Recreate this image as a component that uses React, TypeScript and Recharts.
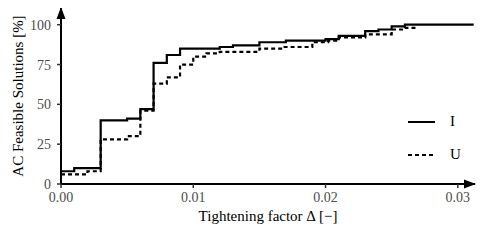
import { Legend, Line, LineChart, ReferenceDot, XAxis, YAxis } from 'recharts'

const iX = [0, 0.001, 0.003, 0.005, 0.006, 0.007, 0.008, 0.009, 0.012, 0.013, 0.015, 0.017, 0.02, 0.021, 0.023, 0.024, 0.025, 0.026, 0.0312]
const iY = [8, 10, 40, 41, 47, 76, 81, 85, 86, 87, 89, 90, 91, 93, 96, 97, 99, 100, 100]
const uX = [0, 0.002, 0.003, 0.005, 0.006, 0.007, 0.008, 0.009, 0.01, 0.011, 0.012, 0.015, 0.0168, 0.019, 0.0202, 0.021, 0.023, 0.025, 0.026, 0.027]
const uY = [6, 8, 28, 30, 46, 63, 67, 75, 80, 82, 83, 85, 86, 89, 90, 92, 94, 97, 98, 98]
const xTicks = [0, 0.01, 0.02, 0.03]
const yTicks = [0, 25, 50, 75, 100]
const X_MAX = 0.0313
const Y_MAX = 110.5

const FONT = 'Liberation Serif'
const dataI = iX.map((x, i) => ({ x, y: iY[i] }))
const dataU = uX.map((x, i) => ({ x, y: uY[i] }))

// custom ticks so the serif font is applied for sure
const XTick = (p: any) => (
  <text x={p.x} y={p.y + 14} textAnchor="middle" fontFamily={FONT} fontSize={14} fill="#4d4d4d">
    {p.payload.value.toFixed(2)}
  </text>
)
const YTick = (p: any) => (
  <text x={p.x} y={p.y + 5} textAnchor="end" fontFamily={FONT} fontSize={14} fill="#4d4d4d">
    {p.payload.value}
  </text>
)

const ArrowRight = (p: any) => (
  <polygon points={`${p.cx + 1},${p.cy} ${p.cx - 11},${p.cy - 4.5} ${p.cx - 11},${p.cy + 4.5}`} fill="#000" />
)
const ArrowUp = (p: any) => (
  <polygon points={`${p.cx},${p.cy - 1} ${p.cx - 4.5},${p.cy + 11} ${p.cx + 4.5},${p.cy + 11}`} fill="#000" />
)

const LegendBox = () => (
  <div style={{ fontFamily: FONT, fontSize: 15, color: '#000' }}>
    {[
      { name: 'I', dash: undefined },
      { name: 'U', dash: '4 3' },
    ].map((s) => (
      <div key={s.name} style={{ display: 'flex', alignItems: 'center', height: 33 }}>
        <svg width={27} height={4}>
          <line x1={0} x2={27} y1={2} y2={2} stroke="#000" strokeWidth={2} strokeDasharray={s.dash} />
        </svg>
        <span style={{ marginLeft: 15 }}>{s.name}</span>
      </div>
    ))}
  </div>
)

export default function App() {
  return (
    <div style={{ width: 477, height: 232, fontFamily: FONT }}>
      <LineChart width={477} height={232} margin={{ top: 0, right: 10, bottom: 0, left: 0 }} style={{ fontFamily: FONT }}>
        <XAxis
          type="number"
          dataKey="x"
          domain={[0, X_MAX]}
          ticks={xTicks}
          tick={XTick}
          tickSize={4}
          tickMargin={0}
          tickLine={{ stroke: '#333', strokeWidth: 1.5 }}
          axisLine={{ stroke: '#000', strokeWidth: 2 }}
          height={56}
          label={{ value: 'Tightening factor Δ [−]', position: 'insideBottom', offset: 19, style: { fontFamily: FONT, fontSize: 15, fill: '#000' } }}
        />
        <YAxis
          type="number"
          domain={[0, Y_MAX]}
          ticks={yTicks}
          tick={YTick}
          tickSize={4}
          tickMargin={6}
          tickLine={{ stroke: '#333', strokeWidth: 1.5 }}
          axisLine={{ stroke: '#000', strokeWidth: 2 }}
          width={53}
          label={{ value: 'AC Feasible Solutions [%]', angle: -90, position: 'insideLeft', offset: 10, style: { textAnchor: 'middle', fontFamily: FONT, fontSize: 15, fill: '#000' } }}
        />
        <Line data={dataI} dataKey="y" type="stepAfter" stroke="#000" strokeWidth={2.2} dot={false} isAnimationActive={false} />
        <Line data={dataU} dataKey="y" type="stepAfter" stroke="#000" strokeWidth={2.2} strokeDasharray="4 3" dot={false} isAnimationActive={false} />
        <ReferenceDot x={X_MAX} y={0} ifOverflow="visible" shape={ArrowRight} />
        <ReferenceDot x={0} y={Y_MAX} ifOverflow="visible" shape={ArrowUp} />
        <Legend layout="vertical" align="center" verticalAlign="middle" wrapperStyle={{ left: 400, top: 97, width: 70 }} content={() => <LegendBox />} />
      </LineChart>
    </div>
  )
}
